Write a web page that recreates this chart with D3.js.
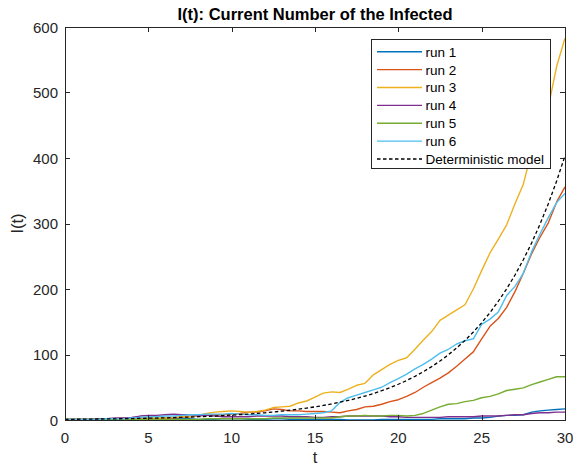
<!DOCTYPE html>
<meta charset="utf-8">
<body style="margin:0;background:#fff">

<svg width='573' height='468'></svg>

<script type="text/javascript" src="https://d3js.org/d3.v7.min.js"></script>
<script>

// time grid, step 0.5
var times = d3.range(0, 30.001, 0.5);

var xTicks = [0, 5, 10, 15, 20, 25, 30];
var yTicks = [0, 100, 200, 300, 400, 500, 600];

var runNames = ['run 1', 'run 2', 'run 3', 'run 4', 'run 5', 'run 6'];
var detName = 'Deterministic model';

// values, one per time point
var run1 = [1,1,1,1,1,2,2,2,2,1,1,1,2,2,2,2,1,1,1,2,2,2,1,1,1,2,2,1,1,1,1,1,1,1,0,0,0,0,1,1,1,1,1,1,1,2,2,2,2,3,3,4,6,7,7,8,12,14,15,16,17];
var run2 = [1,1,1,1,1,1,2,2,2,2,2,2,3,3,4,5,6,7,8,8,9,10,12,12,14,17,16,14,14,13,13,13,12,11,14,16,20,21,24,28,31,36,42,50,57,64,72,82,93,104,124,143,155,172,196,224,254,279,301,333,356];
var run3 = [1,1,1,1,2,2,2,3,3,3,3,3,3,4,5,5,7,10,12,13,14,13,12,13,15,19,20,21,26,29,35,41,43,42,47,53,56,69,77,85,91,95,108,122,135,152,160,168,176,200,228,255,276,298,330,360,410,445,478,540,583];
var run4 = [1,1,1,1,2,2,3,3,4,6,7,7,8,9,8,8,7,7,6,5,5,5,5,6,6,6,6,5,5,5,4,4,5,5,6,6,6,6,6,5,5,4,4,4,4,4,5,5,5,5,6,6,6,7,8,8,10,11,11,12,12];
var run5 = [1,1,1,1,1,1,1,1,1,1,1,1,1,1,1,1,1,2,2,2,2,2,2,2,2,3,3,3,3,3,3,3,3,5,6,6,7,6,6,7,7,6,7,10,15,20,24,25,28,30,34,36,40,45,47,49,54,58,62,66,66];
var run6 = [1,1,1,1,1,2,2,2,3,4,5,5,6,6,7,8,8,9,9,9,10,9,8,8,7,7,8,8,8,9,10,11,14,27,34,38,42,46,50,57,63,70,78,85,93,102,108,116,121,124,146,154,165,190,204,224,257,284,309,332,346];
var detModel = [1.0,1.1,1.2,1.3,1.5,1.6,1.8,2.0,2.2,2.5,2.7,3.0,3.3,3.7,4.1,4.5,5.0,5.5,6.0,6.7,7.4,8.2,9.0,10.0,11.0,12.2,13.5,14.9,16.4,18.2,20.1,22.2,24.5,27.1,30.0,33.1,36.6,40.4,44.7,49.4,54.6,60.3,66.7,73.7,81.5,90.0,99.5,110,121.5,134.3,148.4,164,181.3,200.3,221.4,244.7,270.4,298.9,330.3,365,403.4];

var runs = [run1, run2, run3, run4, run5, run6];
var colors = ['#0072BD', '#D95319', '#EDB120', '#7E2F8E', '#77AC30', '#4DBEEE'];

var svg = d3.select('svg');
var axisColor = '#262626';
var font = 'Liberation Sans, Arial, Helvetica, sans-serif';

// plot area (note: "top" is reserved on window, so use p* names)
var pLeft = 65, pRight = 565, pTop = 27, pBottom = 420;

var x = d3.scaleLinear().domain([0, 30]).range([pLeft, pRight]);
var y = d3.scaleLinear().domain([0, 600]).range([pBottom, pTop]);

var line = d3.line()
  .x(function(d, i) { return x(times[i]); })
  .y(function(d) { return y(d); });

var plot = svg.append('g');

runs.forEach(function(r, k) {
  plot.append('path')
    .attr('d', line(r))
    .attr('fill', 'none')
    .attr('stroke', colors[k])
    .attr('stroke-width', 1.4)
    .attr('stroke-linejoin', 'round');
});

plot.append('path')
  .attr('d', line(detModel))
  .attr('fill', 'none')
  .attr('stroke', '#000')
  .attr('stroke-width', 1.3)
  .attr('stroke-dasharray', '3.5,2.5');

// box + ticks on all four sides (ticks point inward)
var frame = svg.append('g');
frame.append('rect')
  .attr('x', pLeft + 0.5).attr('y', pTop + 0.5)
  .attr('width', pRight - pLeft).attr('height', pBottom - pTop)
  .attr('fill', 'none')
  .attr('stroke', axisColor)
  .attr('stroke-width', 1);

var tickLen = 5;
frame.selectAll('.xt').data(xTicks).enter().append('path')
  .attr('d', function(d) {
    var px = Math.round(x(d)) + 0.5;
    return 'M' + px + ',' + pBottom + 'v' + (-tickLen) + 'M' + px + ',' + pTop + 'v' + tickLen;
  })
  .attr('stroke', axisColor);
frame.selectAll('.yt').data(yTicks).enter().append('path')
  .attr('d', function(d) {
    var py = Math.round(y(d)) + 0.5;
    return 'M' + pLeft + ',' + py + 'h' + tickLen + 'M' + pRight + ',' + py + 'h' + (-tickLen);
  })
  .attr('stroke', axisColor);

svg.selectAll('.xl').data(xTicks).enter().append('text')
  .attr('x', function(d) { return x(d); })
  .attr('y', 442.5)
  .attr('text-anchor', 'middle')
  .attr('font-family', font)
  .attr('font-size', 15)
  .attr('fill', axisColor)
  .text(function(d) { return d; });

svg.selectAll('.yl').data(yTicks).enter().append('text')
  .attr('x', 58)
  .attr('y', function(d) { return y(d) + 5.5; })
  .attr('text-anchor', 'end')
  .attr('font-family', font)
  .attr('font-size', 15)
  .attr('fill', axisColor)
  .text(function(d) { return d; });

svg.append('text')
  .attr('x', (pLeft + pRight) / 2)
  .attr('y', 463)
  .attr('text-anchor', 'middle')
  .attr('font-family', font)
  .attr('font-size', 16.5)
  .attr('fill', axisColor)
  .text('t');

svg.append('text')
  .attr('transform', 'translate(23,' + ((pTop + pBottom) / 2) + ') rotate(-90)')
  .attr('text-anchor', 'middle')
  .attr('font-family', font)
  .attr('font-size', 16.5)
  .attr('fill', axisColor)
  .text('I(t)');

svg.append('text')
  .attr('x', (pLeft + pRight) / 2)
  .attr('y', 20)
  .attr('text-anchor', 'middle')
  .attr('font-family', font)
  .attr('font-size', 16.5)
  .attr('font-weight', 'bold')
  .attr('fill', '#000')
  .text('I(t): Current Number of the Infected');

// legend
var legend = svg.append('g');
legend.append('rect')
  .attr('x', 371.5).attr('y', 39.5)
  .attr('width', 179).attr('height', 129)
  .attr('fill', '#fff')
  .attr('stroke', axisColor)
  .attr('stroke-width', 1);

var items = runNames.map(function(n, k) { return { name: n, color: colors[k], dash: null }; });
items.push({ name: detName, color: '#000', dash: '3.5,2.5' });

var rowY = d3.scaleLinear().domain([0, 6]).range([51.7, 159]);
items.forEach(function(it, k) {
  legend.append('line')
    .attr('x1', 377).attr('x2', 422)
    .attr('y1', rowY(k)).attr('y2', rowY(k))
    .attr('stroke', it.color)
    .attr('stroke-width', 1.4)
    .attr('stroke-dasharray', it.dash);
  legend.append('text')
    .attr('x', 425.5)
    .attr('y', rowY(k) + 5)
    .attr('font-family', font)
    .attr('font-size', 13.5)
    .attr('fill', '#000')
    .text(it.name);
});

</script>
